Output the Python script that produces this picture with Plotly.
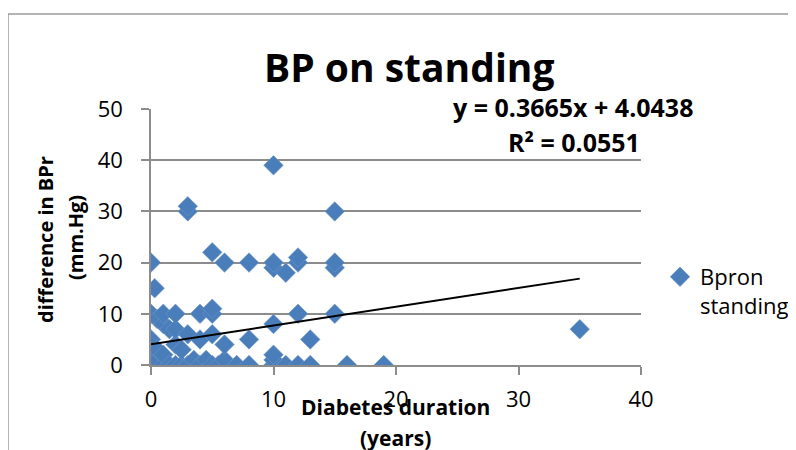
import plotly.graph_objects as go

# ---- data ----
duration_years = [
    0, 0, 0, 0, 0, 0,
    0.3,
    0.5, 0.5, 0.5,
    1, 1, 1, 1,
    1.5, 1.5,
    2, 2, 2, 2,
    2.5, 2.5,
    3, 3, 3, 3,
    3.5,
    4, 4, 4,
    4.5,
    5, 5, 5, 5, 5,
    5.5,
    6, 6, 6,
    7,
    8, 8, 8,
    10, 10, 10, 10, 10, 10, 10,
    11, 11,
    12, 12, 12, 12,
    13, 13,
    15, 15, 15, 15,
    16,
    19,
    35,
]
bp_difference = [
    0, 0, 2, 5, 10, 20,
    15,
    1, 3, 9,
    0, 2, 8, 10,
    0, 7,
    0, 4, 7, 10,
    0, 3,
    0, 6, 30, 31,
    1,
    0, 5, 10,
    1,
    0, 6, 10, 11, 22,
    0,
    1, 4, 20,
    0,
    0, 5, 20,
    0, 1, 2, 8, 19, 20, 39,
    0, 18,
    0, 10, 20, 21,
    0, 5,
    10, 19, 20, 30,
    0,
    0,
    7,
]
trend_slope = 0.3665
trend_intercept = 4.0438
r_squared = 0.0551

x_ticks = [0, 10, 20, 30, 40]
y_ticks = [0, 10, 20, 30, 40, 50]

series_name = "Bpron<br>standing"
title_text = "BP on standing"
x_title_lines = ["Diabetes duration", "(years)"]
y_title_lines = ["difference in BPr", "(mm.Hg)"]

# ---- figure ----
# the page body has an 8px margin, so the figure is 8px smaller and shifted
OFF = 8
W, H = 796 - OFF, 450 - OFF
ML = 151 - OFF
MT = 109 - OFF
MR = W - (641 - OFF)
MB = H - (365 - OFF)
PW, PH = W - ML - MR, H - MT - MB

def px_x(px):
    return (px - OFF - ML) / PW

def px_y(py):
    return (H - MB - (py - OFF)) / PH

FONT = "Open Sans"
BLUE = "#4a7ebb"
GRID = "#8c8c8c"

fig = go.Figure()

fig.add_trace(go.Scatter(
    x=duration_years, y=bp_difference, mode="markers", name=series_name,
    marker=dict(symbol="diamond", size=15, color=BLUE,
                line=dict(width=0.6, color="#6f97c8")),
))

x_line = [min(duration_years), max(duration_years)]
y_line = [trend_slope * v + trend_intercept for v in x_line]
fig.add_trace(go.Scatter(
    x=x_line, y=y_line, mode="lines", showlegend=False,
    line=dict(color="black", width=2), hoverinfo="skip",
))

annotations = [
    dict(text=f"<b>{title_text}</b>", x=px_x(409), y=px_y(66), xref="paper", yref="paper",
         showarrow=False, font=dict(family=FONT, size=39, color="black"),
         xanchor="center", yanchor="middle"),
    dict(text=f"<b>y = {trend_slope}x + {trend_intercept}</b>", x=px_x(573), y=px_y(107),
         xref="paper", yref="paper", showarrow=False,
         font=dict(family=FONT, size=25, color="black"), xanchor="center", yanchor="middle"),
    dict(text=f"<b>R² = {r_squared}</b>", x=px_x(574), y=px_y(142),
         xref="paper", yref="paper", showarrow=False,
         font=dict(family=FONT, size=25, color="black"), xanchor="center", yanchor="middle"),
    dict(text=f"<b>{x_title_lines[0]}</b>", x=px_x(395), y=px_y(407), xref="paper", yref="paper",
         showarrow=False, font=dict(family=FONT, size=21, color="black"),
         xanchor="center", yanchor="middle"),
    dict(text=f"<b>{x_title_lines[1]}</b>", x=px_x(395), y=px_y(438), xref="paper", yref="paper",
         showarrow=False, font=dict(family=FONT, size=21, color="black"),
         xanchor="center", yanchor="middle"),
    dict(text=f"<b>{y_title_lines[0]}</b>", x=px_x(45), y=px_y(240), xref="paper", yref="paper",
         showarrow=False, font=dict(family=FONT, size=20, color="black"), textangle=-90,
         xanchor="center", yanchor="middle"),
    dict(text=f"<b>{y_title_lines[1]}</b>", x=px_x(75), y=px_y(238), xref="paper", yref="paper",
         showarrow=False, font=dict(family=FONT, size=20, color="black"), textangle=-90,
         xanchor="center", yanchor="middle"),
]

fig.update_layout(
    width=W, height=H,
    margin=dict(l=ML, r=MR, t=MT, b=MB, autoexpand=False),
    paper_bgcolor="white", plot_bgcolor="white",
    font=dict(family=FONT, size=22, color="black"),
    showlegend=True,
    legend=dict(x=px_x(660), y=px_y(256), xanchor="left", yanchor="top",
                valign="top", font=dict(family=FONT, size=22, color="black"),
                bgcolor="rgba(0,0,0,0)", tracegroupgap=0),
    annotations=annotations,
    shapes=[dict(type="rect", xref="paper", yref="paper",
                 x0=px_x(8), x1=px_x(820), y0=px_y(480), y1=px_y(14),
                 line=dict(color="#9a9a9a", width=1.5), layer="below")],
    xaxis=dict(range=[0, 40], tickvals=x_ticks, ticktext=[str(v) for v in x_ticks],
               showgrid=False, zeroline=False, showline=True, linecolor=GRID, linewidth=1.5,
               ticks="outside", ticklen=8, tickcolor=GRID, tickwidth=1.5,
               ticklabelstandoff=6, tickfont=dict(family=FONT, size=22, color="black")),
    yaxis=dict(range=[0, 50], tickvals=y_ticks, ticktext=[str(v) for v in y_ticks],
               showgrid=True, gridcolor=GRID, gridwidth=1.5, zeroline=False,
               showline=True, linecolor=GRID, linewidth=1.5,
               ticks="outside", ticklen=8, tickcolor=GRID, tickwidth=1.5,
               ticklabelstandoff=14, tickfont=dict(family=FONT, size=22, color="black")),
)
fig.update_layout(hovermode=False)

fig.write_html("out.html")
